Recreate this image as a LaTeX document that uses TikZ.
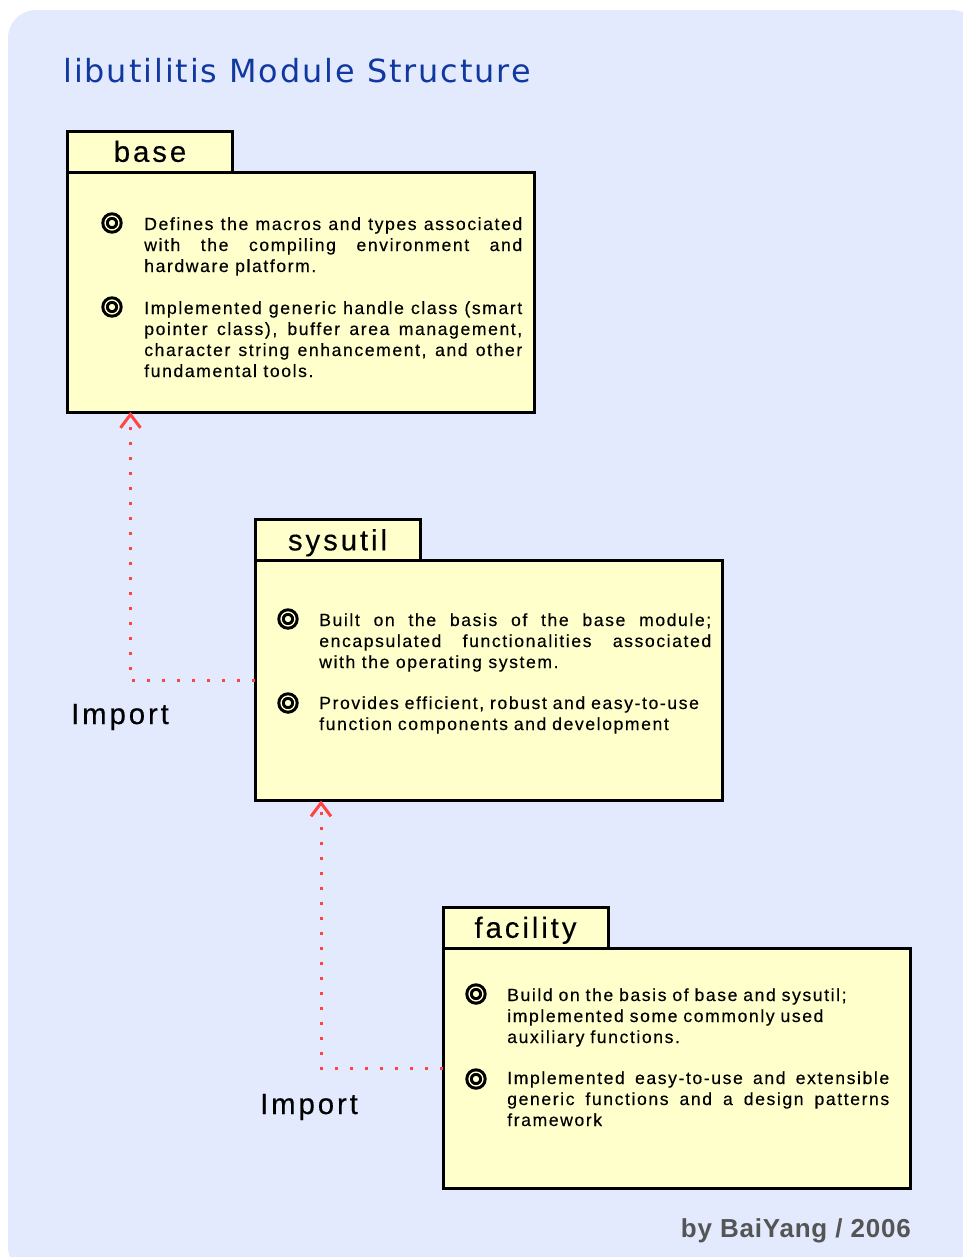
\documentclass[tikz,border=0pt]{standalone}
\usepackage{fontspec}
\setmainfont{Liberation Sans}
\newfontfamily\titlefont[LetterSpace=6]{DejaVu Sans}
\newfontfamily\boxfont[LetterSpace=10, FakeBold=0.3]{Liberation Sans}
\newfontfamily\descfont[LetterSpace=9, FakeBold=0.3]{Liberation Sans}
\newfontfamily\footfont[LetterSpace=3]{Liberation Sans}
\usetikzlibrary{arrows.meta}

\definecolor{bgblue}{RGB}{227,234,253}
\definecolor{pkgyellow}{RGB}{255,255,204}
\definecolor{titleblue}{RGB}{16,56,160}
\definecolor{importred}{RGB}{255,68,68}
\definecolor{footgrey}{RGB}{85,85,85}

\tikzset{
  pkgtab/.style={draw, line width=2.25pt, fill=pkgyellow, minimum width=123.75pt, minimum height=30.75pt,
    inner sep=0pt, outer sep=0pt, text height=15.5pt, text depth=0pt, font=\boxfont\fontsize{22pt}{26pt}\selectfont},
  pkgbody/.style={draw, line width=2.25pt, fill=pkgyellow, minimum width=350.25pt, minimum height=180pt,
    inner sep=0pt, outer sep=0pt},
  bullet/.style={circle, draw, line width=2.3pt, double=pkgyellow, double distance=1pt, fill=pkgyellow,
    minimum size=10.4pt, inner sep=0pt},
  desc/.style={anchor=base west, inner sep=0pt, font=\descfont\fontsize{13.2pt}{15.75pt}\selectfont},
  importline/.style={importred, line width=2.25pt, dash pattern=on 2.25pt off 9pt,
    -{Straight Barb[length=10pt, width=15pt, line width=2.25pt]}},
  implabel/.style={anchor=base, inner sep=0pt, font=\boxfont\fontsize{22pt}{26pt}\selectfont}
}

\begin{document}
\begin{tikzpicture}[x=0.75pt, y=-0.75pt]
        \useasboundingbox (0,0) rectangle (963,1257);
        \clip (0,0) rectangle (963,1257);
        \fill[bgblue, rounded corners=21pt] (8,10) rectangle (980,1275);

        % Title
        \node[anchor=base west, inner sep=0pt, text=titleblue, font=\titlefont\fontsize{23.9pt}{28pt}\selectfont]
            (title) at (63,82) {libutilitis Module Structure};

        % Define the packages
        \node[pkgbody] (basebody) at (301,292) {};
        \node[pkgtab, anchor=south west] (basetab) at (basebody.north west) {base};
        \node[pkgbody] (sysbody) at (488.5,680.5) {};
        \node[pkgtab, anchor=south west] (systab) at (sysbody.north west) {sysutil};
        \node[pkgbody] (facbody) at (676.5,1068) {};
        \node[pkgtab, anchor=south west] (factab) at (facbody.north west) {facility};

        % base
        \node[bullet] (b1) at (112,223) {};
        \node[desc, text width=283.5pt, align=justify] (t1) at (144,230)
            {Defines the macros and types associated\linebreak with the compiling environment and\linebreak hardware platform.};
        \node[bullet] (b2) at (112,307) {};
        \node[desc, text width=283.5pt, align=justify] (t2) at (144,314)
            {Implemented generic handle class (smart\linebreak pointer class), buffer area management,\linebreak character string enhancement, and other\linebreak fundamental tools.};

        % sysutil
        \node[bullet] (b3) at (288,619) {};
        \node[desc, text width=294pt, align=justify] (t3) at (319,626)
            {Built on the basis of the base module;\linebreak encapsulated functionalities associated\linebreak with the operating system.};
        \node[bullet] (b4) at (288,703) {};
        \node[desc, text width=294pt, align=left] (t4) at (319,709)
            {Provides efficient, robust and easy-to-use\\ function components and development};

        % facility
        \node[bullet] (b5) at (476,994) {};
        \node[desc, text width=286.5pt, align=left] (t5) at (507,1001)
            {Build on the basis of base and sysutil;\\ implemented some commonly used\\ auxiliary functions.};
        \node[bullet] (b6) at (476,1079) {};
        \node[desc, text width=286.5pt, align=justify] (t6) at (507,1084)
            {Implemented easy-to-use and extensible\linebreak generic functions and a design patterns\linebreak framework};

        % Define the imports
        \draw[importline] (sysbody.west) -| ([xshift=47.25pt]basebody.south west);
        \draw[importline] (facbody.west) -| ([xshift=49.5pt]sysbody.south west);
        \node[implabel] (imp1) at (120,724) {Import};
        \node[implabel] (imp2) at (309,1114) {Import};

        % Credit
        \node[anchor=base east, inner sep=0pt, text=footgrey, font=\footfont\bfseries\fontsize{19.5pt}{23pt}\selectfont]
            (credit) at (911,1237) {by BaiYang / 2006};
\end{tikzpicture}
\end{document}
